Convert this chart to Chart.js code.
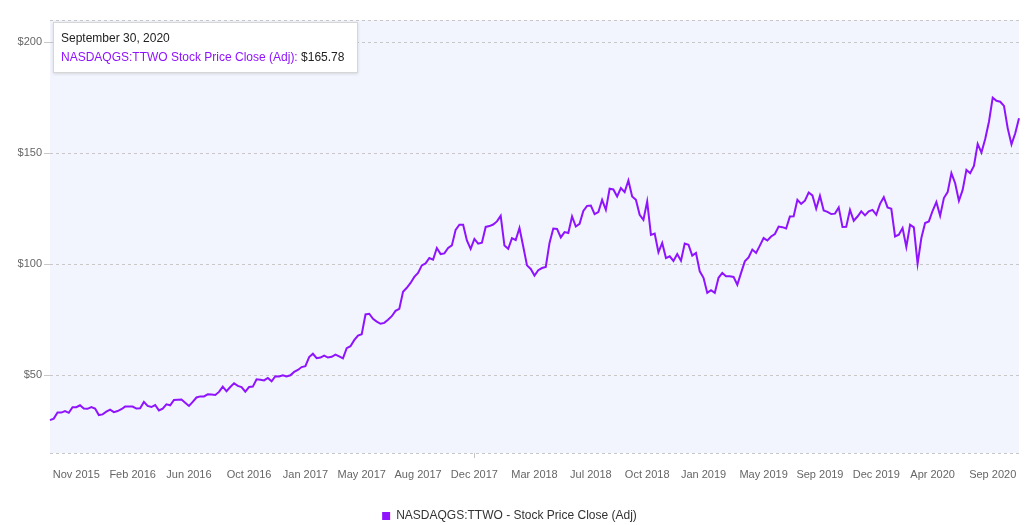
<!DOCTYPE html>
<html>
<head>
<meta charset="utf-8">
<script src="https://cdn.jsdelivr.net/npm/chart.js"></script>
<style>
    body { margin: 0; background: #fff; font-family: "Liberation Sans", Arial, sans-serif; overflow: hidden; }
    #wrap { position: relative; width: 1036px; height: 525px; overflow: hidden; }
    #tip {
        position: absolute; left: 53px; top: 22px;
        background: #fff; border: 1px solid #d6d6d6;
        box-shadow: 0 1px 3px rgba(0,0,0,0.12);
        padding: 6px 13px 5px 7px;
        font-size: 12px; line-height: 19px; color: #222; white-space: nowrap;
    }
    #tip .name { color: #9013fe; }
</style>
</head>
<body>
<div id="wrap">
    <canvas id="myChart" width="1036" height="532"></canvas>
    <div id="tip"></div>
</div>
<script>
// weekly adjusted close (Oct 2015 -> Sep 30 2020)
const prices = [
    29.8, 30.5, 33.2, 33.2, 33.9, 33.1, 35.6, 35.6, 36.5, 35.0, 34.9, 35.7, 35.0, 32.1, 32.4, 33.6, 34.5, 33.4, 33.9, 34.7,
    35.9, 35.9, 35.9, 35.0, 35.1, 38.0, 36.2, 35.7, 36.6, 34.2, 35.0, 36.9, 36.5, 38.9, 39.0, 39.1, 37.6, 36.2, 38.0, 40.0, 40.5,
    40.5, 41.4, 41.3, 41.1, 42.5, 44.9, 42.8, 44.7, 46.4, 45.2, 44.7, 42.6, 44.7, 44.9, 48.2, 48.0, 47.7, 48.8, 47.3, 49.6,
    49.5, 50.0, 49.5, 50.0, 51.5, 52.4, 53.7, 54.1, 58.2, 59.7, 57.7, 58.0, 58.9, 58.0, 58.3, 59.3, 58.5, 57.6, 62.2, 63.1, 65.8, 67.9, 68.5,
    77.4, 77.7, 75.4, 74.2, 73.2, 73.6, 75.0, 76.6, 79.0, 79.9, 87.6, 89.4, 91.6, 94.3, 96.1, 99.5, 100.4, 102.8, 102.1, 107.3,
    104.6, 104.9, 107.3, 108.5, 115.5, 117.8, 117.8, 110.7, 106.9, 111.4, 109.3, 109.7, 116.8, 117.2, 117.9, 119.3, 121.8, 108.4, 107.0, 111.8, 110.9, 116.3,
    108.0, 99.5, 97.9, 94.9, 97.3, 98.3, 98.8, 109.6, 116.1, 115.9, 112.1, 114.5, 114.1, 121.5, 117.0, 118.2, 124.0, 126.3, 126.4, 122.6,
    123.5, 129.0, 124.5, 134.0, 133.7, 130.5, 134.3, 132.5, 137.7, 130.5, 129.0, 122.3, 120.0, 128.3, 113.2, 113.8, 105.4, 109.6, 102.8, 103.6, 101.5, 104.6, 101.6, 109.3,
    108.8, 103.9, 105.1, 96.8, 93.9, 87.1, 88.3, 87.1, 93.9, 96.1, 94.6, 94.6, 94.3, 90.8, 96.1, 101.3, 103.1, 106.6, 105.1, 108.4,
    111.8, 110.7, 112.5, 113.6, 117.0, 116.7, 116.1, 121.5, 121.6, 129.0, 127.2, 128.6, 132.3, 131.0, 125.0, 130.8, 124.2, 123.6, 122.6, 122.8, 125.6, 116.8, 116.9,
    124.5, 119.6, 121.5, 123.8, 122.0, 123.8, 124.5, 122.3, 127.2, 130.2, 125.6, 125.0, 112.5, 113.3, 116.3, 107.8, 117.8, 116.6, 100.3, 111.8,
    118.6, 119.3, 124.1, 128.0, 121.8, 129.8, 132.5, 141.0, 136.5, 128.6, 133.5, 142.5, 141.0, 144.3, 154.2, 150.3, 156.4, 164.2, 175.0, 173.6,
    173.2, 171.3, 161.2, 154.0, 159.0, 165.78
];
const tickLabels = ['Nov 2015', 'Feb 2016', 'Jun 2016', 'Oct 2016', 'Jan 2017', 'May 2017', 'Aug 2017', 'Dec 2017', 'Mar 2018',
    'Jul 2018', 'Oct 2018', 'Jan 2019', 'May 2019', 'Sep 2019', 'Dec 2019', 'Apr 2020', 'Sep 2020'];
const yTicks = [50, 100, 150, 200];
const seriesName = 'NASDAQGS:TTWO - Stock Price Close (Adj)';
const tipName = 'NASDAQGS:TTWO Stock Price Close (Adj)';
const lastDate = [2020, 9, 30];

const monthNames = ['January', 'February', 'March', 'April', 'May', 'June', 'July', 'August', 'September', 'October', 'November', 'December'];
const purple = '#9013fe';

// one category per week, counting back from the last date
const dates = [];
const endMs = Date.UTC(lastDate[0], lastDate[1] - 1, lastDate[2]);
for (let i = 0; i < prices.length; i++) {
    const d = new Date(endMs - (prices.length - 1 - i) * 7 * 86400000);
    dates.push(monthNames[d.getUTCMonth()] + ' ' + d.getUTCDate() + ', ' + d.getUTCFullYear());
}

// month labels sit about every 15 weeks
const tickStart = 6.9, tickStep = 15.225;
function tickLabelAt(i) {
    const k = Math.round((i - tickStart) / tickStep);
    if (k < 0 || k >= tickLabels.length) return null;
    return Math.round(tickStart + k * tickStep) === i ? tickLabels[k] : null;
}

const plotBg = {
    id: 'plotBg',
    beforeDraw(chart) {
        const {ctx, chartArea: a} = chart;
        ctx.save();
        ctx.fillStyle = '#f2f5fd';
        ctx.fillRect(a.left, a.top, a.right - a.left, a.bottom - a.top);
        ctx.restore();
    }
};

// short tick marks under the plot, only where a month label is shown
const xTickMarks = {
    id: 'xTickMarks',
    afterDraw(chart) {
        const {ctx, chartArea: a, scales: {x}} = chart;
        ctx.save();
        ctx.strokeStyle = '#c4c4c4';
        ctx.lineWidth = 1;
        ctx.beginPath();
        for (let i = 0; i < x.ticks.length; i++) {
            if (!tickLabelAt(i)) continue;
            const px = Math.round(x.getPixelForTick(i)) + 0.5;
            ctx.moveTo(px, a.bottom);
            ctx.lineTo(px, a.bottom + 5);
        }
        ctx.stroke();
        ctx.restore();
    }
};

Chart.defaults.font.family = '"Liberation Sans", Arial, sans-serif';

new Chart(document.getElementById('myChart'), {
    type: 'line',
    data: {
        labels: dates,
        datasets: [{
            label: seriesName,
            data: prices,
            borderColor: purple,
            backgroundColor: purple,
            borderWidth: 2,
            pointRadius: 0,
            tension: 0,
            fill: false
        }]
    },
    options: {
        responsive: false,
        animation: false,
        layout: { padding: { top: 20, right: 17, left: 0, bottom: 0 } },
        plugins: {
            tooltip: { enabled: false },
            legend: {
                position: 'bottom',
                labels: {
                    boxWidth: 8, boxHeight: 8, padding: 4, color: '#333',
                    font: { size: 12 },
                    generateLabels: () => [{
                        text: seriesName, fillStyle: purple, strokeStyle: purple,
                        lineWidth: 0, hidden: false, datasetIndex: 0, fontColor: '#333'
                    }]
                }
            }
        },
        scales: {
            x: {
                type: 'category',
                offset: false,
                afterFit: s => { s.height = 53; },
                border: { display: false },
                grid: { display: false, tickLength: 5 },
                ticks: {
                    autoSkip: false, maxRotation: 0, minRotation: 0, padding: 10,
                    color: '#666', font: { size: 11 },
                    callback: (v, i) => tickLabelAt(i)
                }
            },
            y: {
                min: 15,
                max: 210,
                afterFit: s => { s.width = 50; },
                border: { display: false, dash: [3, 3] },
                grid: {
                    color: '#c8c8c8', tickLength: 6,
                    tickColor: c => yTicks.includes(c.tick.value) ? '#c8c8c8' : 'rgba(0,0,0,0)'
                },
                ticks: {
                    stepSize: 50, padding: 2, color: '#666', font: { size: 11 },
                    callback: v => yTicks.includes(v) ? '$' + v : ''
                }
            }
        }
    },
    plugins: [plotBg, xTickMarks]
});

// static hover box for the last point
const tip = document.getElementById('tip');
const line1 = document.createElement('div');
line1.textContent = dates[dates.length - 1];
const line2 = document.createElement('div');
const nm = document.createElement('span');
nm.className = 'name';
nm.textContent = tipName + ':';
line2.appendChild(nm);
line2.appendChild(document.createTextNode(' $' + prices[prices.length - 1].toFixed(2)));
tip.appendChild(line1);
tip.appendChild(line2);
</script>
</body>
</html>
